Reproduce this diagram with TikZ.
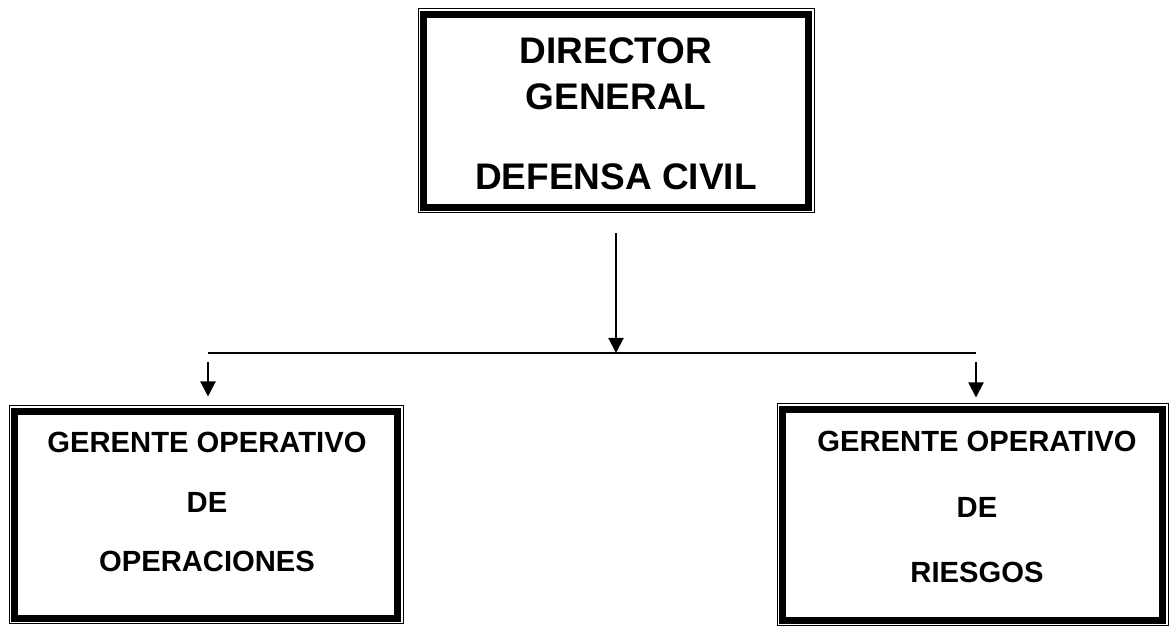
\documentclass[tikz,border=0pt]{standalone}
\usepackage{fontspec}
\setmainfont{Liberation Sans}
\usetikzlibrary{calc,arrows.meta}
\tikzset{
  box/.style      = {draw, line width=1pt, inner sep=0pt,
                     path picture={\draw[line width=7pt]
                       ($(path picture bounding box.south west)+(5.5pt,5.5pt)$) rectangle
                       ($(path picture bounding box.north east)-(5.5pt,5.5pt)$);}},
  bigtext/.style  = {anchor=base, font=\fontsize{37}{44}\selectfont\bfseries},
  smalltext/.style= {anchor=base, font=\fontsize{29.2}{35}\selectfont\bfseries},
  bus/.style      = {coordinate}
}
\begin{document}
\begin{tikzpicture}[x=1pt, y=1pt, >={Triangle[width=15pt,length=15pt]}]
\useasboundingbox (0,0) rectangle (1170,626);

% Director
\draw node [box, minimum width=396pt, minimum height=204pt] at (616,515) (dir) {};
\draw node [bigtext] at (616,562) (dir1) {DIRECTOR};
\draw node [bigtext] at (616,516) (dir2) {GENERAL};
\draw node [bigtext] at (616,436) (dir3) {DEFENSA CIVIL};

% Gerentes
\draw node [box, minimum width=394pt, minimum height=218pt] at (206,111) (oper) {};
\draw node [smalltext] at (207,173) (oper1) {GERENTE OPERATIVO};
\draw node [smalltext] at (207,113) (oper2) {DE};
\draw node [smalltext] at (207,54) (oper3) {OPERACIONES};

\draw node [box, minimum width=391pt, minimum height=222pt] at (972.5,111) (ries) {};
\draw node [smalltext] at (977,174) (ries1) {GERENTE OPERATIVO};
\draw node [smalltext] at (977,108) (ries2) {DE};
\draw node [smalltext] at (977,43) (ries3) {RIESGOS};

% Bus line
\draw node [bus, name=busL] at (208,273) {};
\draw node [bus, name=busM] at (616,273) {};
\draw node [bus, name=busR] at (976,273) {};

% Connections
\draw[->, line width=2pt] ([yshift=-20pt]dir.south) -- (busM);
\draw[line width=1.6pt] (busL) -- (busR);
\draw[->, line width=2pt] ([yshift=-9pt]busL) -- ($(busL |- oper.north)+(0,9pt)$);
\draw[->, line width=2pt] ([yshift=-9pt]busR) -- ($(busR |- ries.north)+(0,6pt)$);

\end{tikzpicture}
\end{document}
